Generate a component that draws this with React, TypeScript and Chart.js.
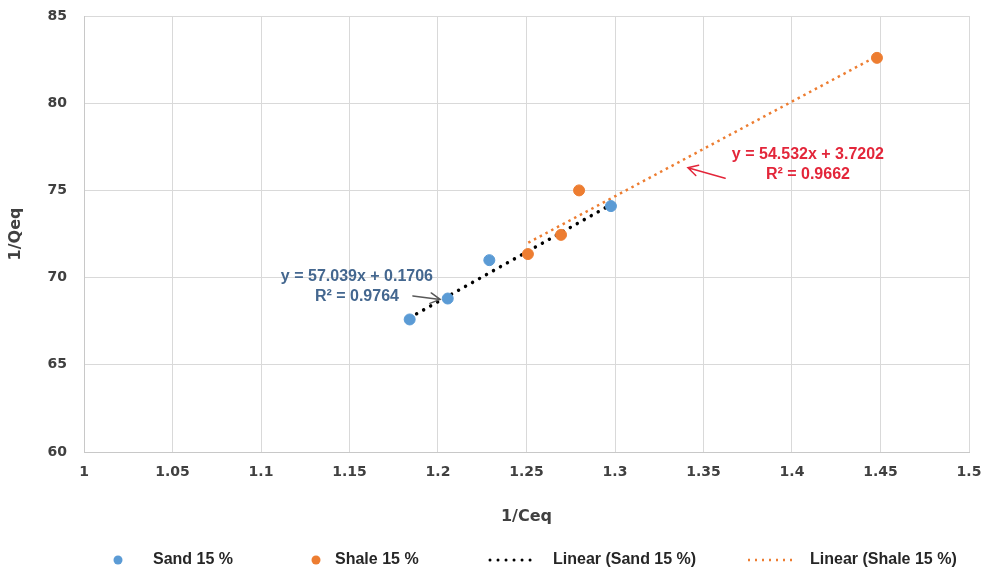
import React, { useEffect, useRef } from "react";
import { Chart, registerables } from "chart.js";

Chart.register(...registerables);

// ---- Data ----
const sandX = [1.184, 1.2055, 1.229, 1.2977];
const sandY = [67.6, 68.8, 71.0, 74.1];
const shaleX = [1.2508, 1.2695, 1.2797, 1.448];
const shaleY = [71.35, 72.45, 75.0, 82.6];
const sandTrendX = [1.184, 1.298];
const sandTrendY = [67.7, 74.2];
const shaleTrendX = [1.251, 1.448];
const shaleTrendY = [72.0, 82.7];

const xTicksMin = 1;
const xTicksMax = 1.5;
const xStep = 0.05;
const yTicksMin = 60;
const yTicksMax = 85;
const yStep = 5;

const seriesNames = ["Sand 15 %", "Shale 15 %", "Linear (Sand 15 %)", "Linear (Shale 15 %)"];
const sandEq = ["y = 57.039x + 0.1706", "R\u00B2 = 0.9764"];
const shaleEq = ["y = 54.532x + 3.7202", "R\u00B2 = 0.9662"];

const BLUE = "#5b9bd5";
const ORANGE = "#ed7d31";
const TICK_COLOR = "#404040";

const zip = (xs: number[], ys: number[]) => xs.map((x, i) => ({ x, y: ys[i] }));

function drawArrow(ctx: CanvasRenderingContext2D, x1: number, y1: number, x2: number, y2: number, color: string, w: number) {
  const ang = Math.atan2(y2 - y1, x2 - x1);
  const head = 11;
  ctx.save();
  ctx.strokeStyle = color;
  ctx.lineWidth = w;
  ctx.lineCap = "round";
  ctx.beginPath();
  ctx.moveTo(x1, y1);
  ctx.lineTo(x2, y2);
  ctx.moveTo(x2 - head * Math.cos(ang - 0.5), y2 - head * Math.sin(ang - 0.5));
  ctx.lineTo(x2, y2);
  ctx.lineTo(x2 - head * Math.cos(ang + 0.5), y2 - head * Math.sin(ang + 0.5));
  ctx.stroke();
  ctx.restore();
}

const annotationPlugin = {
  id: "annots",
  afterDraw(chart: any) {
    const ctx: CanvasRenderingContext2D = chart.ctx;
    const xs = chart.scales.x;
    const ys = chart.scales.y;
    const px = (v: number) => xs.getPixelForValue(v);
    const py = (v: number) => ys.getPixelForValue(v);

    // Equation labels
    ctx.save();
    ctx.font = "bold 16px 'Liberation Sans', Arial, sans-serif";
    ctx.textAlign = "center";
    ctx.textBaseline = "middle";
    ctx.fillStyle = "#44678f";
    ctx.fillText(sandEq[0], px(1.1542), py(70.05));
    ctx.fillText(sandEq[1], px(1.1542), py(68.9));
    ctx.fillStyle = "#e3263a";
    ctx.fillText(shaleEq[0], px(1.409), py(77.05));
    ctx.fillText(shaleEq[1], px(1.409), py(75.9));
    ctx.restore();

    drawArrow(ctx, px(1.1858), py(68.95), px(1.2012), py(68.75), "#595959", 1.5);
    drawArrow(ctx, px(1.3622), py(75.7), px(1.3412), py(76.3), "#e3263a", 1.5);

    // Legend
    const ly = 560;
    ctx.save();
    ctx.font = "bold 16px 'Liberation Sans', Arial, sans-serif";
    ctx.textBaseline = "middle";
    ctx.textAlign = "left";
    ctx.fillStyle = "#262626";
    ctx.beginPath();
    ctx.fillStyle = BLUE;
    ctx.arc(118, ly, 4.5, 0, Math.PI * 2);
    ctx.fill();
    ctx.fillStyle = "#262626";
    ctx.fillText(seriesNames[0], 153, ly);
    ctx.beginPath();
    ctx.fillStyle = ORANGE;
    ctx.arc(316, ly, 4.5, 0, Math.PI * 2);
    ctx.fill();
    ctx.fillStyle = "#262626";
    ctx.fillText(seriesNames[1], 335, ly);
    ctx.save();
    ctx.strokeStyle = "#000000";
    ctx.lineWidth = 3;
    ctx.lineCap = "round";
    ctx.setLineDash([0.01, 8]);
    ctx.beginPath();
    ctx.moveTo(490, ly);
    ctx.lineTo(532, ly);
    ctx.stroke();
    ctx.restore();
    ctx.fillText(seriesNames[2], 553, ly);
    ctx.save();
    ctx.strokeStyle = ORANGE;
    ctx.lineWidth = 2.5;
    ctx.setLineDash([2, 5]);
    ctx.beginPath();
    ctx.moveTo(748, ly);
    ctx.lineTo(792, ly);
    ctx.stroke();
    ctx.restore();
    ctx.fillText(seriesNames[3], 810, ly);
    ctx.restore();
  },
};

export default function App() {
  const ref = useRef<HTMLCanvasElement | null>(null);

  useEffect(() => {
    if (!ref.current) return;
    const chart = new Chart(ref.current, {
      type: "scatter",
      data: {
        datasets: [
          {
            label: seriesNames[0],
            data: zip(sandX, sandY),
            backgroundColor: BLUE,
            borderColor: BLUE,
            pointRadius: 5.5,
            pointHoverRadius: 5.5,
            order: 0,
          },
          {
            label: seriesNames[1],
            data: zip(shaleX, shaleY),
            backgroundColor: ORANGE,
            borderColor: ORANGE,
            pointRadius: 5.5,
            pointHoverRadius: 5.5,
            order: 0,
          },
          {
            label: seriesNames[2],
            data: zip(sandTrendX, sandTrendY),
            showLine: true,
            borderColor: "#000000",
            borderWidth: 3.5,
            borderDash: [0.01, 8],
            borderCapStyle: "round",
            pointRadius: 0,
            order: 2,
          } as any,
          {
            label: seriesNames[3],
            data: zip(shaleTrendX, shaleTrendY),
            showLine: true,
            borderColor: ORANGE,
            borderWidth: 2.5,
            borderDash: [2.5, 4],
            pointRadius: 0,
            order: 1,
          } as any,
        ],
      },
      options: {
        animation: false,
        responsive: false,
        maintainAspectRatio: false,
        layout: { padding: { left: 0, top: 16, right: 13, bottom: 0 } },
        plugins: {
          legend: { display: false },
          tooltip: { enabled: false },
        },
        scales: {
          x: {
            type: "linear",
            min: xTicksMin,
            max: xTicksMax,
            afterFit: (s: any) => {
              s.height = 122;
              s.paddingLeft = 0;
              s.paddingRight = 0;
            },
            ticks: {
              stepSize: xStep,
              padding: 12,
              color: TICK_COLOR,
              font: { family: "'DejaVu Sans', Verdana, sans-serif", size: 14, weight: "bold" },
              callback: (v: any) => String(Number(Number(v).toFixed(2))),
            },
            grid: { color: "#d9d9d9", lineWidth: 1, drawTicks: false },
            border: { color: "#c8c8c8" },
            title: {
              display: true,
              text: "1/Ceq",
              color: TICK_COLOR,
              font: { family: "'DejaVu Sans', Verdana, sans-serif", size: 16, weight: "bold" },
              padding: { top: 0, bottom: 48 },
            },
          },
          y: {
            type: "linear",
            min: yTicksMin,
            max: yTicksMax,
            afterFit: (s: any) => {
              s.width = 84;
              s.paddingTop = 0;
              s.paddingBottom = 0;
            },
            ticks: {
              stepSize: yStep,
              padding: 17,
              color: TICK_COLOR,
              font: { family: "'DejaVu Sans', Verdana, sans-serif", size: 14, weight: "bold" },
            },
            grid: { color: "#d9d9d9", lineWidth: 1, drawTicks: false },
            border: { color: "#c8c8c8" },
            title: {
              display: true,
              text: "1/Qeq",
              color: TICK_COLOR,
              font: { family: "'DejaVu Sans', Verdana, sans-serif", size: 16, weight: "bold" },
              padding: { top: 6, bottom: 0 },
            },
          },
        },
      },
      plugins: [annotationPlugin],
    } as any);
    return () => chart.destroy();
  }, []);

  return (
    <div style={{ position: "fixed", left: 0, top: 0, width: 982, height: 574, background: "#ffffff" }}>
      <canvas ref={ref} width={982} height={574} style={{ display: "block" }} />
    </div>
  );
}
